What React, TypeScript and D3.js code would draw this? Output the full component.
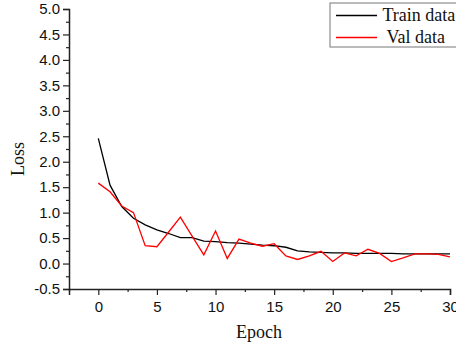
import React, { useEffect, useRef } from 'react'
import * as d3 from 'd3'

// epochs 0..30
const epochs = d3.range(0, 31)

const trainLoss = [
  2.46, 1.54, 1.12, 0.89, 0.76, 0.66, 0.59, 0.51, 0.51, 0.44, 0.43,
  0.41, 0.40, 0.38, 0.36, 0.35, 0.32, 0.25, 0.23, 0.22, 0.21,
  0.21, 0.20, 0.20, 0.20, 0.20, 0.19, 0.19, 0.19, 0.19, 0.19,
]

const valLoss = [
  1.58, 1.41, 1.13, 1.00, 0.35, 0.33, 0.62, 0.91, 0.54, 0.17, 0.64,
  0.10, 0.48, 0.40, 0.34, 0.39, 0.15, 0.08, 0.15, 0.24, 0.04,
  0.21, 0.15, 0.28, 0.20, 0.04, 0.11, 0.19, 0.19, 0.18, 0.13,
]

const yMajor = d3.range(-0.5, 5.01, 0.5)
const yMinor = d3.range(-0.25, 5.0, 0.5)
const xMajor = [0, 5, 10, 15, 20, 25, 30]
const xMinor = [-2.5, 2.5, 7.5, 12.5, 17.5, 22.5, 27.5]

const seriesNames = ['Train data', 'Val data']
const seriesColors = ['#000000', '#ff0000']

export default function App() {
  const ref = useRef<SVGSVGElement>(null)

  useEffect(() => {
    const svg = d3.select(ref.current)
    svg.selectAll('*').remove()

    const left = 69, right = 450, top = 9, bottom = 289

    const x = d3.scaleLinear().domain([-2.5, 30]).range([left, right])
    const y = d3.scaleLinear().domain([-0.5, 5.0]).range([bottom, top])

    const axisColor = '#222'
    const tickFont = '"Liberation Sans", Arial, sans-serif'
    const serif = '"Liberation Serif", "Times New Roman", serif'
    const fmtY = (d: number) => d3.format('.1f')(d).replace('\u2212', '-')

    // y axis
    const gY = svg.append('g').attr('transform', 'translate(' + left + ',0)')
    gY.call(d3.axisLeft(y).tickValues(yMajor).tickSize(6).tickPadding(3).tickFormat(fmtY as any) as any)
    gY.append('g').call(d3.axisLeft(y).tickValues(yMinor).tickSize(3).tickFormat(() => '') as any)
      .select('.domain').remove()
    gY.selectAll('.domain').attr('stroke', axisColor).attr('stroke-width', 1.5)
    gY.selectAll('.tick line').attr('stroke', axisColor).attr('stroke-width', 1.2)
    gY.selectAll('.tick text')
      .attr('font-size', 15)
      .attr('font-family', tickFont)
      .attr('fill', '#111')

    // x axis
    const gX = svg.append('g').attr('transform', 'translate(0,' + bottom + ')')
    gX.call(d3.axisBottom(x).tickValues(xMajor).tickSize(6).tickPadding(6).tickFormat(d3.format('d')) as any)
    gX.append('g').call(d3.axisBottom(x).tickValues(xMinor).tickSize(3).tickFormat(() => '') as any)
      .select('.domain').remove()
    gX.selectAll('.domain').attr('stroke', axisColor).attr('stroke-width', 1.5)
    gX.selectAll('.tick line').attr('stroke', axisColor).attr('stroke-width', 1.2)
    gX.selectAll('.tick text')
      .attr('font-size', 15)
      .attr('font-family', tickFont)
      .attr('fill', '#111')

    // lines
    const line = d3.line<number>()
      .x((d, i) => x(epochs[i]))
      .y(d => y(d))

    ;[trainLoss, valLoss].forEach((s, k) => {
      svg.append('path')
        .datum(s)
        .attr('d', line)
        .attr('fill', 'none')
        .attr('stroke', seriesColors[k])
        .attr('stroke-width', 1.3)
    })

    // axis titles
    svg.append('text')
      .attr('x', 259).attr('y', 338)
      .attr('text-anchor', 'middle')
      .attr('font-family', serif).attr('font-size', 18)
      .attr('fill', '#111')
      .text('Epoch')

    svg.append('text')
      .attr('transform', 'translate(24,159) rotate(-90)')
      .attr('text-anchor', 'middle')
      .attr('font-family', serif).attr('font-size', 18)
      .attr('fill', '#111')
      .text('Loss')

    // legend
    const lg = svg.append('g')
    lg.append('rect')
      .attr('x', 330).attr('y', 3).attr('width', 140).attr('height', 44)
      .attr('fill', 'white').attr('stroke', '#777').attr('stroke-width', 1)
    seriesNames.forEach((n, k) => {
      const yy = 15.5 + k * 22
      lg.append('line')
        .attr('x1', 336).attr('x2', 377).attr('y1', yy).attr('y2', yy)
        .attr('stroke', seriesColors[k]).attr('stroke-width', 1.3)
      lg.append('text')
        .attr('x', k === 0 ? 382.5 : 386.5).attr('y', yy + 5.5)
        .attr('font-family', serif).attr('font-size', 18)
        .attr('fill', '#111')
        .text(n)
    })
  }, [])

  return (
    <svg ref={ref} width={456} height={351}
      style={{ position: 'absolute', left: 0, top: 0, background: 'white' }} />
  )
}
